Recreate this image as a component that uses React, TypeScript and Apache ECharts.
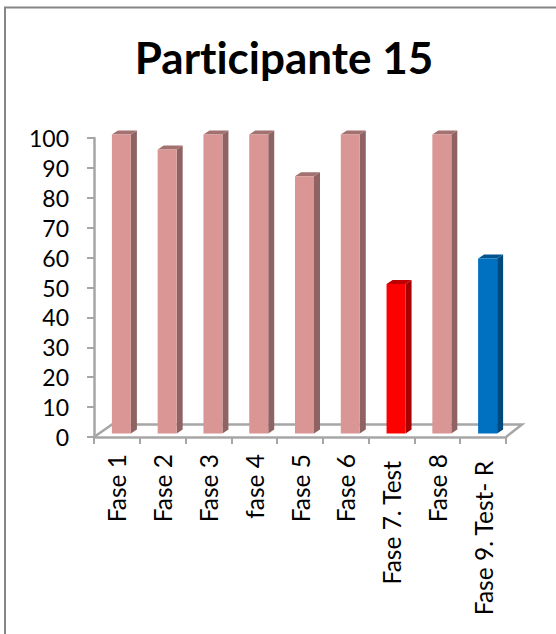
import React, { useEffect, useRef } from "react";
import * as echarts from "echarts";

const titleText = "Participante 15";
const categories = ["Fase 1", "Fase 2", "Fase 3", "fase 4", "Fase 5", "Fase 6", "Fase 7. Test", "Fase 8", "Fase 9. Test- R"];
const values = [100, 95, 100, 100, 86, 100, 50, 100, 58.5];
const frontColors = ["#D99694", "#D99694", "#D99694", "#D99694", "#D99694", "#D99694", "#FF0000", "#D99694", "#0070C0"];
const sideColors = ["#8E6362", "#8E6362", "#8E6362", "#8E6362", "#8E6362", "#8E6362", "#A60000", "#8E6362", "#00497D"];
const topColors = ["#A37170", "#A37170", "#A37170", "#A37170", "#A37170", "#A37170", "#BF0000", "#A37170", "#005490"];

const FONT = "Lato, Carlito, 'Open Sans', sans-serif";
const AXIS = "#A6A6A6";

export default function App() {
  const ref = useRef<HTMLDivElement>(null);
  useEffect(() => {
    const chart = echarts.init(ref.current!, null, { renderer: "svg" });
    chart.setOption({
      animation: false,
      backgroundColor: "#FFFFFF",
      title: {
        text: titleText,
        left: 279,
        top: 30,
        textAlign: "center",
        textStyle: { fontFamily: FONT, fontSize: 44, fontWeight: "bold", color: "#000000" },
      },
      grid: { left: 94, top: 138, width: 412, height: 299, containLabel: false },
      xAxis: {
        type: "category",
        data: categories,
        axisLine: { lineStyle: { color: AXIS, width: 2.5 } },
        axisTick: { show: true, alignWithLabel: false, length: 7, lineStyle: { color: AXIS, width: 2 } },
        axisLabel: {
          interval: 0,
          rotate: 90,
          margin: 17,
          color: "#000000",
          fontFamily: FONT,
          fontSize: 24.5,
          formatter: (v: string) => (v.length > 8 ? `{long|${v}}` : v),
          rich: { long: { padding: [0, 7, 0, 0], fontFamily: FONT, fontSize: 24.5, color: "#000000" } },
        },
      },
      yAxis: {
        type: "value",
        min: 0,
        max: 100,
        interval: 10,
        splitLine: { show: false },
        axisLine: { show: true, lineStyle: { color: AXIS, width: 2.5 } },
        axisTick: { show: true, length: 7, lineStyle: { color: AXIS, width: 2 } },
        axisLabel: { margin: 25, color: "#000000", fontFamily: FONT, fontSize: 23 },
      },
      graphic: [
        { type: "line", z: 0, shape: { x1: 5, y1: 7, x2: 5, y2: 634 }, style: { stroke: "#868686", lineWidth: 2 }, silent: true },
        { type: "line", z: 0, shape: { x1: 4, y1: 7.5, x2: 556, y2: 7.5 }, style: { stroke: "#868686", lineWidth: 2 }, silent: true },
        { type: "polyline", z: 0, shape: { points: [[94, 437], [112, 424.5], [522, 424.5], [506, 437]] }, style: { stroke: AXIS, lineWidth: 2.5, fill: "none" }, silent: true },
      ],
      series: [
        {
          type: "custom",
          z: 5,
          data: values.map((v, i) => [i, v]),
          encode: { x: 0, y: 1 },
          clip: false,
          renderItem: (_params: any, api: any) => {
            const i = api.value(0);
            const top = api.coord([i, api.value(1)]);
            const base = api.coord([i, 0]);
            const x0 = top[0] - 5;
            const x1 = x0 + 19;
            const dx = 6;
            const dy = 4;
            const yTop = top[1] - 3.5;
            const yBase = base[1] - 3.5;
            return {
              type: "group",
              children: [
                { type: "polygon", shape: { points: [[x1, yTop], [x1 + dx, yTop - dy], [x1 + dx, yBase - dy], [x1, yBase]] }, style: { fill: sideColors[i] } },
                { type: "polygon", shape: { points: [[x0, yTop], [x0 + dx, yTop - dy], [x1 + dx, yTop - dy], [x1, yTop]] }, style: { fill: topColors[i] } },
                { type: "rect", shape: { x: x0, y: yTop, width: 19, height: yBase - yTop }, style: { fill: frontColors[i] } },
              ],
            };
          },
        },
      ],
    });
    return () => chart.dispose();
  }, []);
  return <div ref={ref} style={{ position: "absolute", left: 0, top: 0, width: 556, height: 634, fontVariantLigatures: "none" }} />;
}
